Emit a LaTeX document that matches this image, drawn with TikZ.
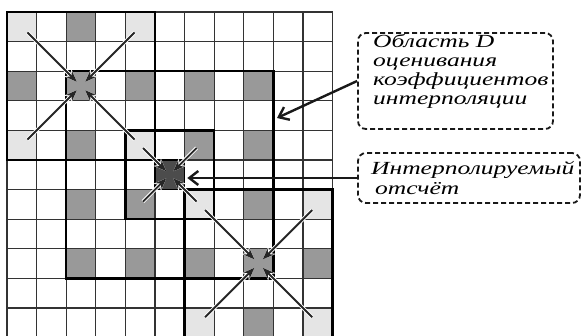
\documentclass[tikz,border=0pt]{standalone}
\usepackage{fontspec}
\newfontfamily\lblfont{Liberation Serif}[FakeStretch=1.38]
\usetikzlibrary{arrows.meta}
\begin{document}
\begin{tikzpicture}[x=1pt,y=-1pt,
  gridline/.style={draw=black!80, line width=1.2pt},
  thickline/.style={draw=black, line width=2.4pt},
  cellL/.style={fill=black!10},
  cellM/.style={fill=black!40},
  inarrow/.style={draw=black!85, line width=1.9pt, -{Stealth[length=11pt,width=8.5pt]},
     preaction={draw=white, line width=3.7pt, -{Stealth[length=13pt,width=10.5pt]}}},
  longin/.style={inarrow, shorten <=8pt, shorten >=6pt},
  shortin/.style={inarrow, shorten <=4pt, shorten >=5pt},
  labelarrow/.style={draw=black!90, line width=2.4pt, -{Straight Barb[length=9pt,width=14pt]}},
  lblbox/.style={draw=black!90, line width=1.8pt, dash pattern=on 5pt off 3pt,
     rounded corners=8pt, inner sep=0pt},
  lbltext/.style={font=\lblfont\itshape\fontsize{18.5}{19}\selectfont, inner sep=0pt, anchor=base west}
]
\useasboundingbox (0,0) rectangle (581,336);
\clip (0,0) rectangle (581,336);
\fill[white] (0,0) rectangle (581,336);
% cell centres
\foreach \c in {0,...,10}{\foreach \r in {0,...,10}{
  \coordinate (p\c-\r) at ({7+(\c+0.5)*29.6},{12+(\r+0.5)*29.6});}}
% light cells (col,row)
\foreach \c/\r in {0/0,4/0,0/4,4/4,6/6,10/6,6/10,10/10}
  \fill[cellL] ({7+\c*29.6},{12+\r*29.6}) rectangle ++(29.6,29.6);
% medium cells (col,row)
\foreach \c/\r in {2/0,0/2,2/2,4/2,2/4,6/2,8/2,2/6,2/8,6/4,4/6,8/4,4/8,8/6,6/8,8/8,10/8,8/10}
  \fill[cellM] ({7+\c*29.6},{12+\r*29.6}) rectangle ++(29.6,29.6);
% grid
\foreach \i in {0,...,11}{
  \draw[gridline] ({7+\i*29.6},12) -- ({7+\i*29.6},340);
  \draw[gridline] (7,{12+\i*29.6}) -- (332.6,{12+\i*29.6});}
% thick outlines
\draw[thickline] (7,12) rectangle ({7+5*29.6},{12+5*29.6});
\draw[thickline] ({7+2*29.6},{12+2*29.6}) rectangle ({7+9*29.6},{12+9*29.6});
\draw[thickline] ({7+4*29.6},{12+4*29.6}) rectangle ({7+7*29.6},{12+7*29.6});
\draw[thickline] ({7+6*29.6},{12+6*29.6}) rectangle ({7+11*29.6},{12+11*29.6});
% interpolated sample
\node[draw=black, line width=1.5pt, fill=black!70, minimum size=29.6pt, inner sep=0pt] (smp) at (p5-5) {};
% arrows window 1
\foreach \s in {p0-0,p4-0,p0-4,p4-4} \draw[longin] (\s) -- (p2-2);
% arrows window 3
\foreach \s in {p6-6,p10-6,p6-10,p10-10} \draw[longin] (\s) -- (p8-8);
% arrows to sample
\foreach \s in {p4-4,p6-4,p4-6,p6-6} \draw[shortin] (\s) -- (smp.center);
% label boxes
\node[lblbox, minimum width=195pt, minimum height=96pt] (lblD) at (455.5,81) {};
\node[lbltext] (lD1) at (373,48) {Область D};
\node[lbltext] (lD2) at (373,67) {оценивания};
\node[lbltext] (lD3) at (373,86) {коэффициентов};
\node[lbltext] (lD4) at (373,105) {интерполяции};
\node[lblbox, minimum width=222pt, minimum height=50pt] (lblS) at (469,178) {};
\node[lbltext] (lS1) at (371,175) {Интерполируемый};
\node[lbltext] (lS2) at (375,195) {отсчёт};
\coordinate (dtip) at (277,118);
\draw[labelarrow] (lblD.west) -- (dtip);
\draw[labelarrow, shorten >=2pt] (lblS.west) -- (lblS.west -| smp.east);
\end{tikzpicture}
\end{document}
